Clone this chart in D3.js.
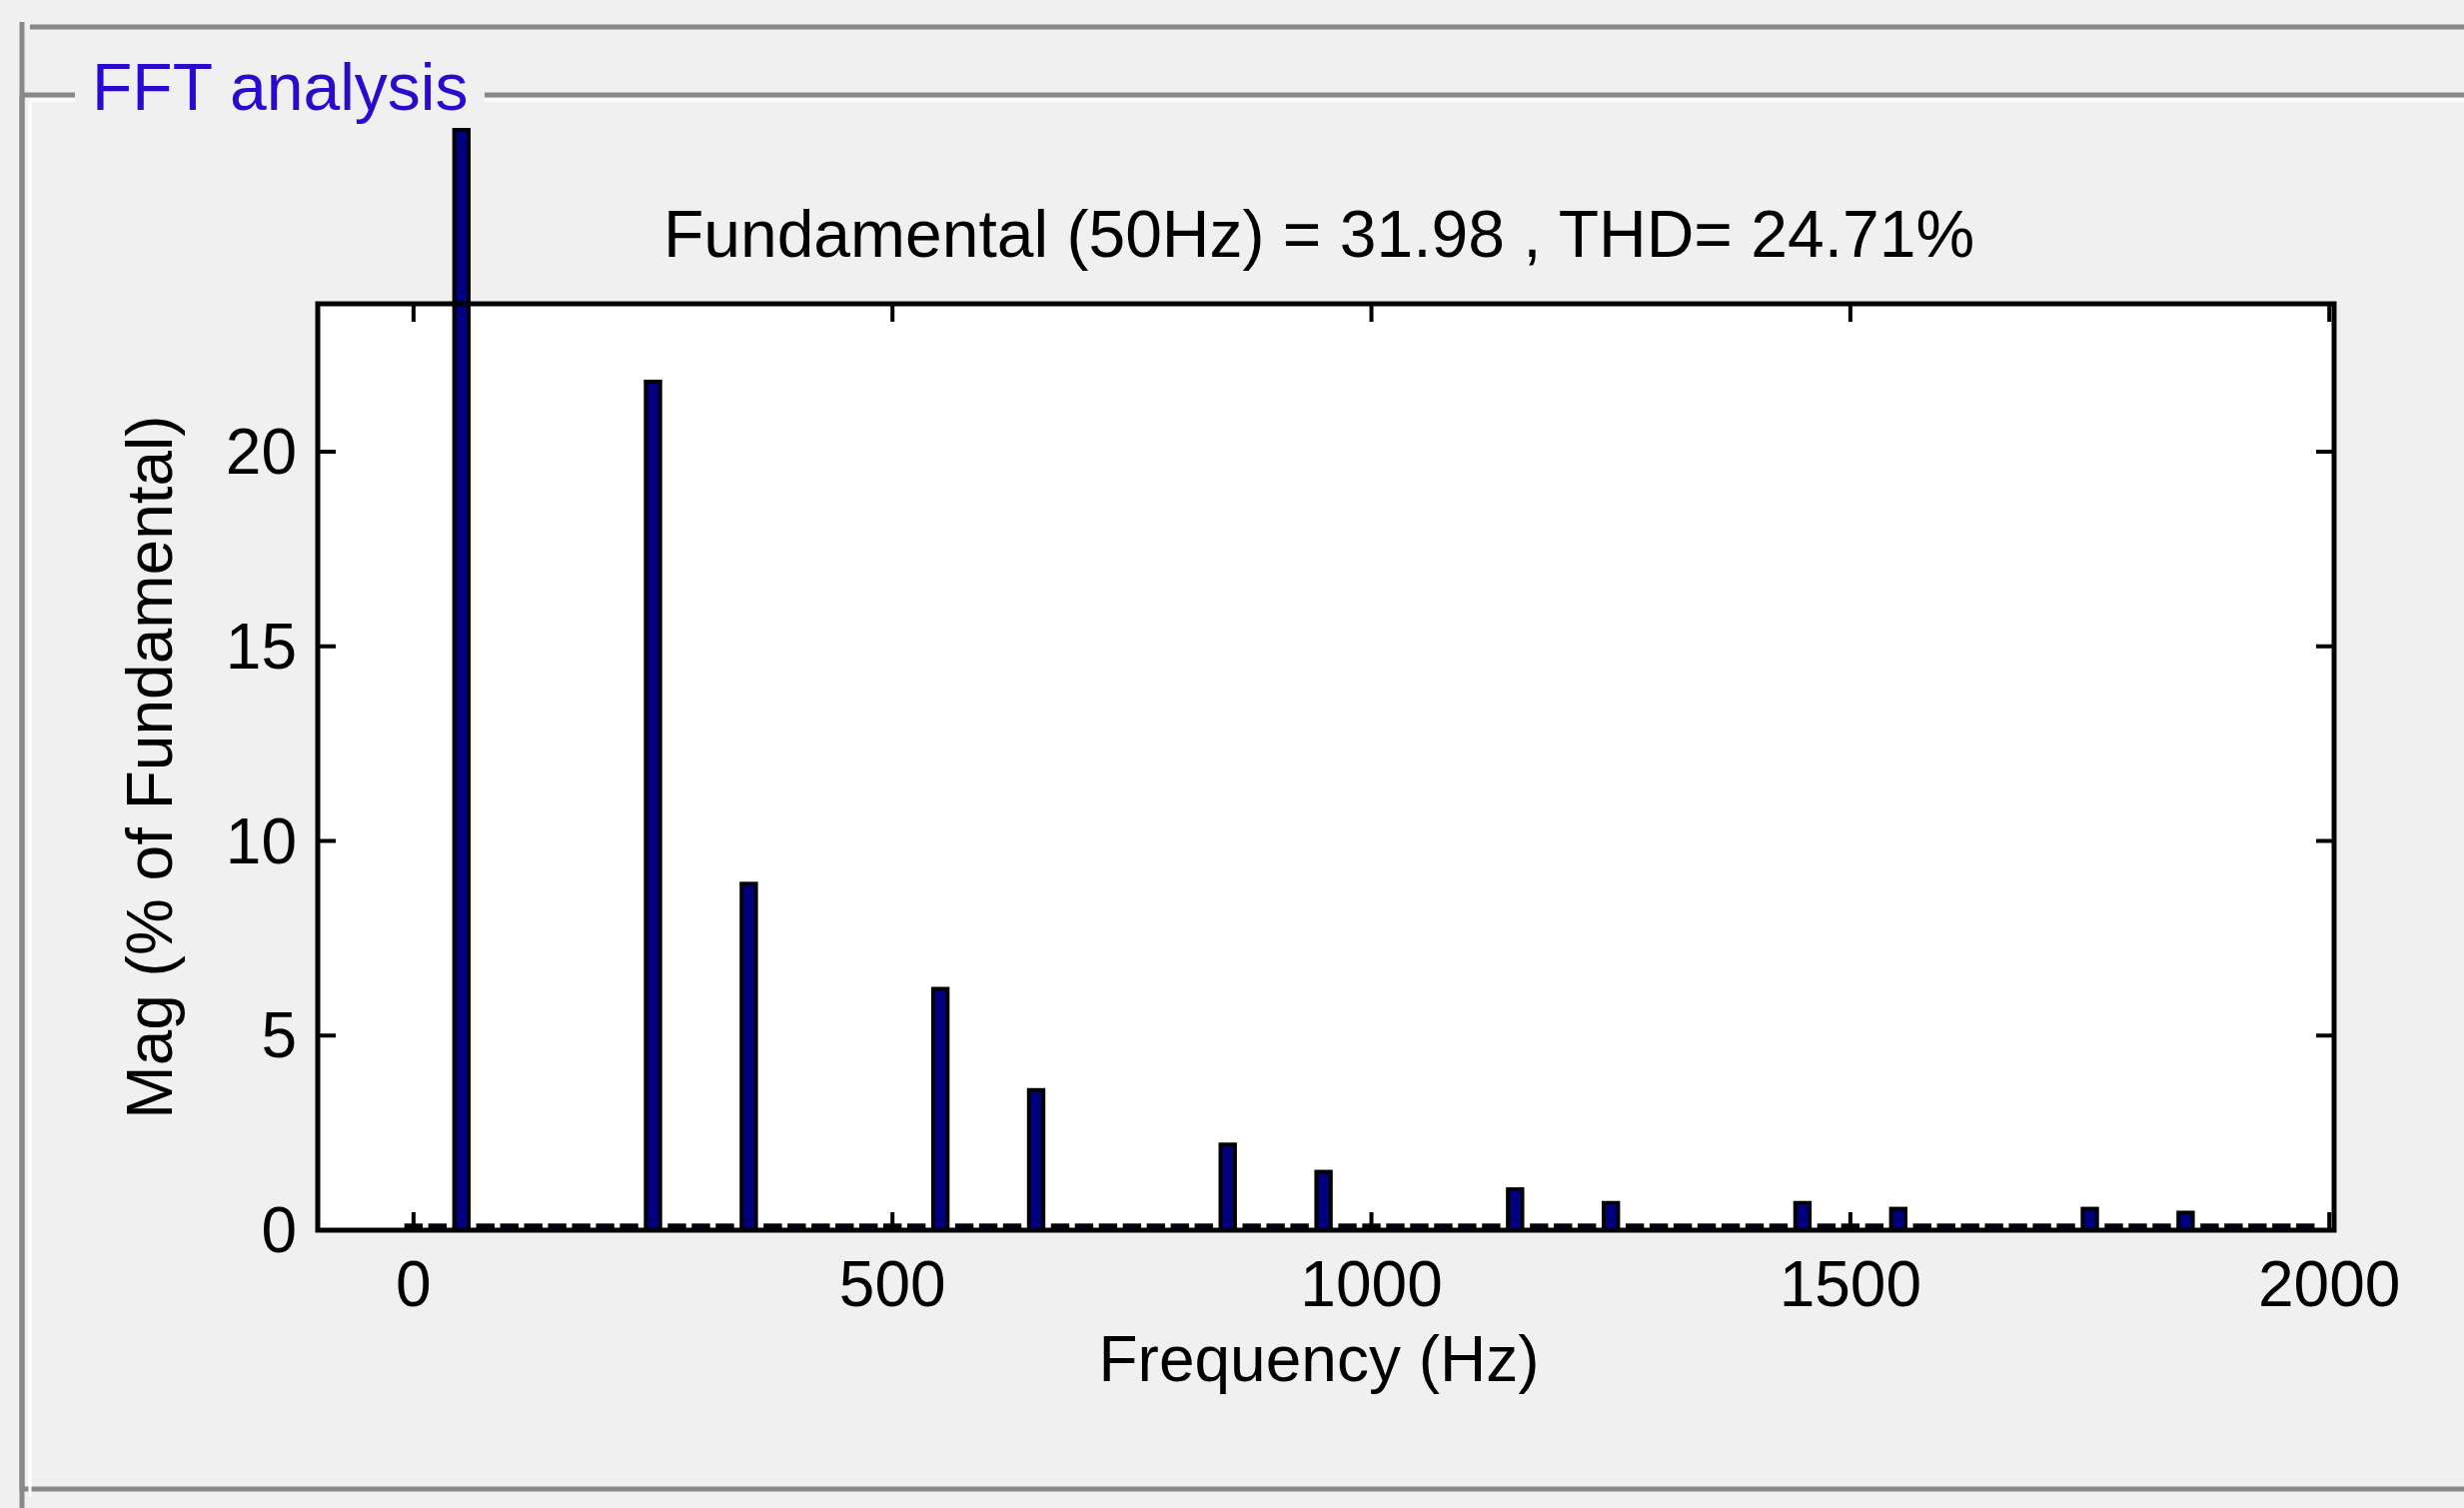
<!DOCTYPE html><html><head><script src="https://cdn.jsdelivr.net/npm/d3@7"></script>
<style>body{margin:0;background:#f0f0f0}</style></head><body><svg id="c" width="2466" height="1509"></svg><script>
const harmonicFreqs=[50,250,350,550,650,850,950,1150,1250,1450,1550,1750,1850];
const harmonicMags=[100,21.8,8.9,6.2,3.6,2.2,1.5,1.05,0.7,0.7,0.55,0.55,0.45];
const baseMag=0.12;
const xTicks=[0,500,1000,1500,2000];
const yTicks=[0,5,10,15,20];
const titleText="Fundamental (50Hz) = 31.98 , THD= 24.71%";

const svg=d3.select("#c"),F="Liberation Sans, Arial, sans-serif";
const L=318,R=2336,T=304,B=1231;
const x=d3.scaleLinear().domain([-100,2005]).range([L,R]);
const y=d3.scaleLinear().domain([0,23.8]).range([B,T]);
svg.append("rect").attr("width",2466).attr("height",1509).attr("fill","#f0f0f0");
svg.append("path").attr("d","M22,22V1509M30,27H2466").attr("stroke","#888").attr("stroke-width",5).attr("fill","none");
svg.append("path").attr("d","M22,95H75M485,95H2466M22,95V1490H2466").attr("stroke","#888").attr("stroke-width",5).attr("fill","none");
svg.append("path").attr("d","M30,100H75M485,100H2466M30,100V1497").attr("stroke","#fff").attr("stroke-width",3).attr("fill","none");
svg.append("text").attr("x",92).attr("y",110).attr("font-family",F).attr("font-size",66).attr("fill","#2a0acc").text("FFT analysis");
svg.append("rect").attr("x",L).attr("y",T).attr("width",R-L).attr("height",B-T).attr("fill","#fff");
const bins=[];
for(let f=0;f<=1975;f+=25){const i=harmonicFreqs.indexOf(f);bins.push({f,m:i>=0?harmonicMags[i]:baseMag});}
const bw=x(15)-x(0);
svg.append("g").selectAll("rect").data(bins).join("rect")
 .attr("x",d=>x(d.f)-bw/2).attr("width",bw)
 .attr("y",d=>Math.max(130,y(d.m))).attr("height",d=>B-Math.max(130,y(d.m)))
 .attr("fill","#000080").attr("stroke","#000").attr("stroke-width",4);
svg.append("rect").attr("x",L).attr("y",T).attr("width",R-L).attr("height",B-T).attr("fill","none").attr("stroke","#000").attr("stroke-width",5);
const tk=18;
xTicks.forEach(v=>{svg.append("path").attr("d",`M${x(v)},${B}v${-tk}M${x(v)},${T}v${tk}`).attr("stroke","#000").attr("stroke-width",4);
 svg.append("text").attr("x",x(v)).attr("y",1307).attr("text-anchor","middle").attr("font-family",F).attr("font-size",64).text(v);});
yTicks.forEach(v=>{svg.append("path").attr("d",`M${L},${y(v)}h${tk}M${R},${y(v)}h${-tk}`).attr("stroke","#000").attr("stroke-width",4);
 svg.append("text").attr("x",297).attr("y",y(v)+22).attr("text-anchor","end").attr("font-family",F).attr("font-size",64).text(v);});
svg.append("text").attr("x",1320).attr("y",257).attr("text-anchor","middle").attr("font-family",F).attr("font-size",66).text(titleText);
svg.append("text").attr("x",1320).attr("y",1382).attr("text-anchor","middle").attr("font-family",F).attr("font-size",64).text("Frequency (Hz)");
svg.append("text").attr("transform",`translate(172,${(T+B)/2})rotate(-90)`).attr("text-anchor","middle").attr("font-family",F).attr("font-size",64).text("Mag (% of Fundamental)");
</script></body></html>
